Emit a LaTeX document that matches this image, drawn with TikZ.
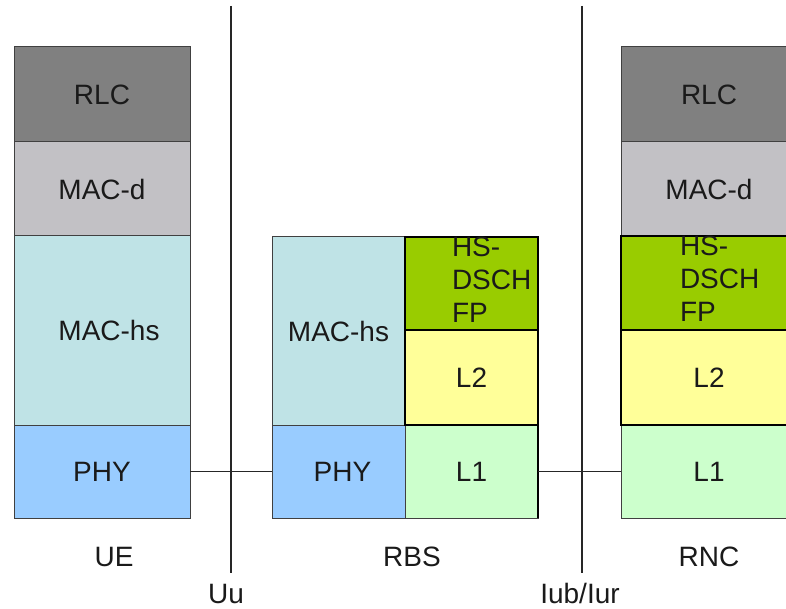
\documentclass[tikz,border=0pt]{standalone}
\usepackage{fontspec}
\setmainfont{Liberation Sans}
\definecolor{rlcgray}{HTML}{808080}
\definecolor{macdgray}{HTML}{C2C1C5}
\definecolor{machsteal}{HTML}{BFE3E6}
\definecolor{phyblue}{HTML}{99CCFF}
\definecolor{fpgreen}{HTML}{99CC00}
\definecolor{ltwoyellow}{HTML}{FFFF99}
\definecolor{lonegreen}{HTML}{CCFFCC}
\definecolor{inktext}{HTML}{1A1A1A}
\begin{document}
\begin{tikzpicture}[x=1pt,y=-1pt,
  every node/.style={font=\fontsize{28}{33}\selectfont, text=inktext, outer sep=0pt},
  layer/.style={draw=black!75, line width=1pt, anchor=north west, inner sep=0pt},
  strong/.style={draw=black, line width=2pt, anchor=north west, inner sep=0pt},
  wire/.style={draw=black!85, line width=1.2pt},
  caption/.style={inner sep=0pt}]
\useasboundingbox (0,0) rectangle (786,609);
\clip (0,0) rectangle (786,609);
\fill[white] (0,0) rectangle (786,609);

% UE protocol stack
\node[layer, fill=rlcgray,   minimum width=176pt, minimum height=95pt]  (uerlc)  at (14,47)  {RLC};
\node[layer, fill=macdgray,  minimum width=176pt, minimum height=94pt]  (uemacd) at (14,142) {MAC-d};
\node[layer, fill=machsteal, minimum width=176pt, minimum height=189pt] (uemachs) at (14,236) {\hspace*{14pt}MAC-hs};
\node[layer, fill=phyblue,   minimum width=176pt, minimum height=93pt]  (uephy)  at (14,425) {PHY};

% RBS protocol stack
\node[layer, fill=machsteal, minimum width=133pt, minimum height=188pt] (rbsmachs) at (272,237) {MAC-hs};
\node[layer, fill=phyblue,   minimum width=133pt, minimum height=93pt]  (rbsphy)   at (272,425) {\hspace*{8pt}PHY};
\node[layer, fill=lonegreen, minimum width=133pt, minimum height=93pt]  (rbsl1)    at (405,425) {L1};
\node[strong, fill=fpgreen,  minimum width=133pt, minimum height=93pt]  (rbsfp)    at (405,237) {};
\node[strong, fill=ltwoyellow, minimum width=133pt, minimum height=95pt] (rbsl2)   at (405,330) {L2};
\draw[draw=black, line width=2pt] (rbsfp.north east) -- (rbsl1.south east);
\node[caption, anchor=north west, align=left] (rbsfptext) at (452,237) {HS-\\DSCH\\FP};

% RNC protocol stack
\node[layer, fill=rlcgray,   minimum width=176pt, minimum height=95pt] (rncrlc)  at (621,47)  {RLC};
\node[layer, fill=macdgray,  minimum width=176pt, minimum height=94pt] (rncmacd) at (621,142) {MAC-d};
\node[layer, fill=lonegreen, minimum width=176pt, minimum height=93pt] (rncl1)   at (621,425) {L1};
\node[strong, fill=fpgreen,  minimum width=176pt, minimum height=94pt] (rncfp)   at (621,236) {};
\node[strong, fill=ltwoyellow, minimum width=176pt, minimum height=95pt] (rncl2) at (621,330) {L2};
\node[caption, anchor=north west, align=left] (rncfptext) at (680,236) {HS-\\DSCH\\FP};

% interfaces
\coordinate (uutop) at (231,6);
\coordinate (uubot) at (231,573);
\coordinate (iubtop) at (582,6);
\coordinate (iubbot) at (582,573);
\draw[wire] (uutop) -- (uubot);
\draw[wire] (iubtop) -- (iubbot);
\draw[wire] (uephy.east) -- (rbsphy.west);
\draw[wire] (rbsl1.east) -- (rncl1.west);

% captions
\node[caption] (uename)  at (114,557) {UE};
\node[caption] (rbsname) at (412,557) {RBS};
\node[caption] (rncname) at (709,557) {RNC};
\node[caption] (uuname)  at (226,594) {Uu};
\node[caption] (iubname) at (580,593) {Iub/Iur};
\end{tikzpicture}
\end{document}
